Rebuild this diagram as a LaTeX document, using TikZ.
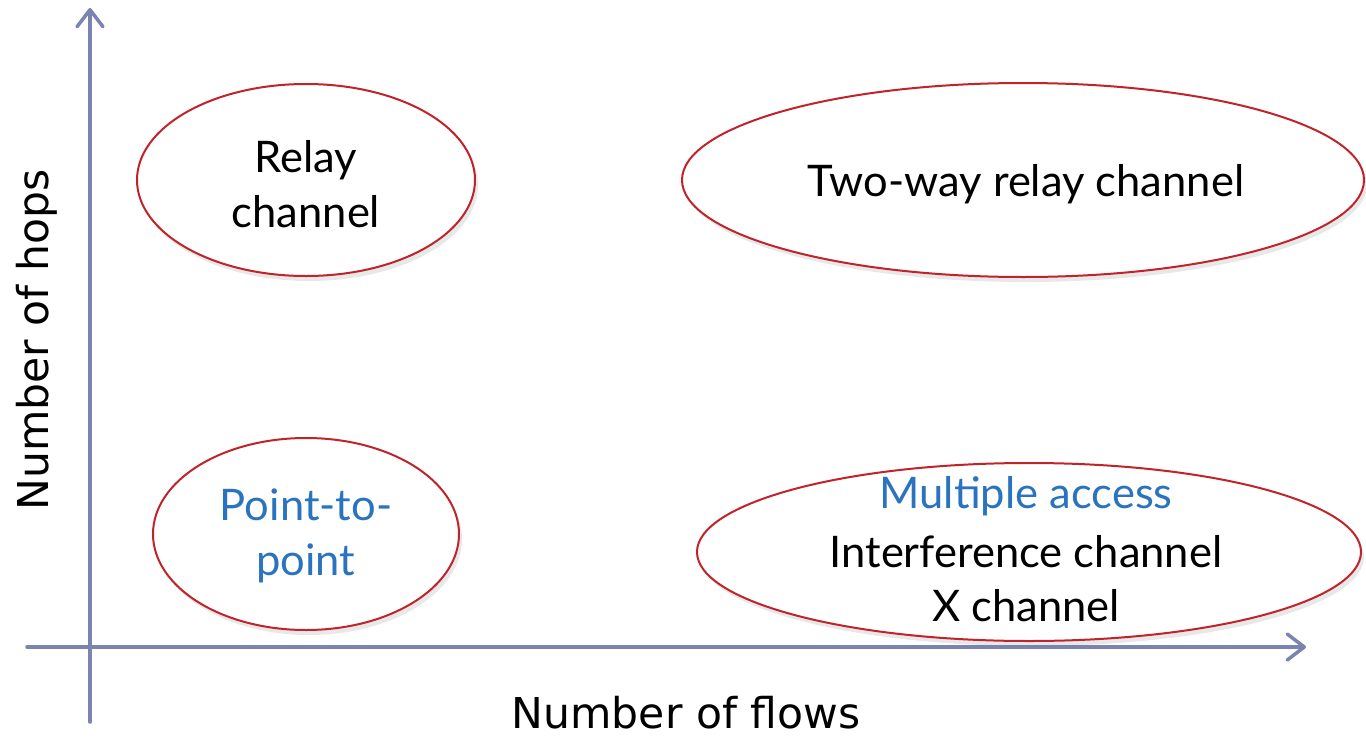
\documentclass[tikz,border=0pt]{standalone}
\usepackage{fontspec}
\setmainfont{Lato}
\newfontfamily\axisfont{DejaVu Sans}
\usetikzlibrary{arrows.meta,shadows,shapes.geometric}
\definecolor{axisc}{HTML}{7B83B0}
\definecolor{ellc}{HTML}{C0232A}
\definecolor{bluec}{HTML}{2A73BF}
\tikzset{
  axisline/.style={draw=axisc, line width=3.5pt, line cap=round,
    -{Straight Barb[length=17pt,width=26pt,line cap=round,line join=round]}},
  oval/.style={draw=ellc, line width=2pt, fill=white, ellipse, inner sep=0pt,
    drop shadow={opacity=0.18, shadow xshift=3pt, shadow yshift=-5pt}},
  lbl/.style={font=\fontsize{43.5}{55}\selectfont, align=center, inner sep=0pt},
  axlbl/.style={font=\axisfont\fontsize{42.5}{50}\selectfont, inner sep=0pt},
}
\begin{document}
\begin{tikzpicture}[x=1pt,y=-1pt]
\useasboundingbox (0,0) rectangle (1366,739);
% axes
\coordinate (ybot) at (90,722);
\coordinate (ytop) at (90,8);
\coordinate (xleft) at (27,647);
\coordinate (xright) at (1306,647);
\draw[axisline] (ybot) -- (ytop);
\draw[axisline] (xleft) -- (xright);
% ellipses
\node[oval, minimum width=338pt, minimum height=192pt] (e1) at (306,180) {};
\node[oval, minimum width=682pt, minimum height=194pt] (e2) at (1023,180) {};
\node[oval, minimum width=306pt, minimum height=192pt] (e3) at (306,534) {};
\node[oval, minimum width=664pt, minimum height=178pt] (e4) at (1029,552) {};
% texts
\node[lbl] (relay) at (306,184) {Relay\\channel};
\node[lbl] (tworelay) at (1026,184) {Two-way relay channel};
\node[lbl, text=bluec] (p2p) at (306,536) {Point-to-\\point};
\node[lbl, text=bluec] (mac) at (1026,496) {Multiple access};
\node[lbl] (ic) at (1026,552) {Interference channel};
\node[lbl] (xc) at (1026,606) {X channel};
\node[axlbl, rotate=90] (hops) at (37,340) {Number of hops};
\node[axlbl] (flows) at (686,713) {Number of flows};
\end{tikzpicture}
\end{document}
